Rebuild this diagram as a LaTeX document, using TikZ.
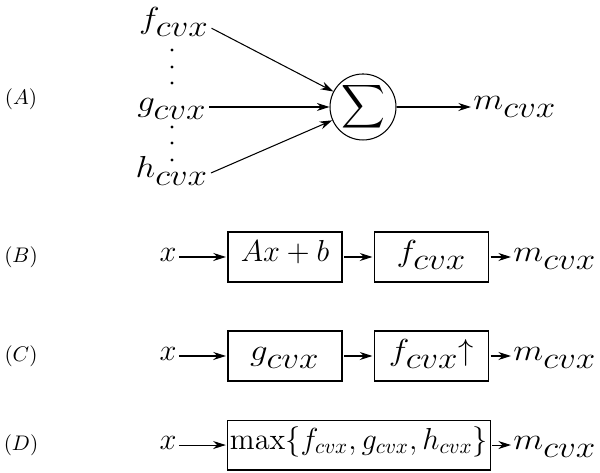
\documentclass[tikz,border=0pt]{standalone}
\usepackage{amsmath,graphicx}
\usetikzlibrary{arrows.meta,positioning}
\newcommand{\cvx}[1]{\scalebox{1.15}[1]{$#1_{\mbox{\raisebox{-0.12em}{$cvx$}}}$}}

\begin{document}
\begin{tikzpicture}[
  term/.style={inner sep=1pt,font=\Large,text height=0.7em,text depth=0.3em},
  block/.style={rectangle,draw,line width=0.5pt,minimum width=1.9cm,
                minimum height=0.833cm,font=\Large,
                text height=0.7em,text depth=0.3em,outer sep=1pt},
  sumnode/.style={circle,draw,line width=0.5pt,minimum size=1.1cm,
                  inner sep=0pt,font=\Large},
  tag/.style={font=\normalsize},
  arr/.style={-{Stealth[length=6pt,width=3.8pt]},line width=0.5pt}
]
  \useasboundingbox (0,0) rectangle (10,-7.867);

  % ---- (A) sum of convex terms --------------------------------
  \node[tag]  (tA)  at (0.35,-1.65)   {$(A)$};
  \node[term] (fA)  at (2.9,-0.4)     {\cvx{f}};
  \node[term] (gA)  at (2.867,-1.783) {\cvx{g}};
  \node[term] (hA)  at (2.867,-2.883) {\cvx{h}};
  \foreach \y in {50,67,83,127,143,160}
    \fill (2.867,-\y/60) circle (0.028);
  \node[sumnode] (sum) at (6.05,-1.783) {$\displaystyle\sum$};
  \node[term] (mA)  at (8.583,-1.75)  {\cvx{m}};

  \draw[arr] (fA.base east) -- (sum);
  \draw[arr] (gA) -- (sum);
  \draw[arr] (hA.east) -- (sum);
  \draw[arr] (sum) -- (sum -| mA.west);

  % ---- (B) affine composition ---------------------------------
  \node[tag]   (tB)   at (0.35,-4.283)  {$(B)$};
  \node[term]  (xB)   at (2.8,-4.283)   {$x$};
  \node[block] (affB) at (4.75,-4.283)  {$Ax+b$};
  \node[block] (fB)   at (7.192,-4.283) {\cvx{f}};
  \node[term]  (mB)   at (9.25,-4.283)  {\cvx{m}};

  \draw[arr] (xB) -- (affB);
  \draw[arr] (affB) -- (fB);
  \draw[arr] (fB) -- (mB);

  % ---- (C) monotone composition -------------------------------
  \node[tag]   (tC) at (0.35,-5.933)  {$(C)$};
  \node[term]  (xC) at (2.8,-5.933)   {$x$};
  \node[block] (gC) at (4.75,-5.933)  {\cvx{g}};
  \node[block] (fC) at (7.192,-5.933) {\cvx{f}$\uparrow$};
  \node[term]  (mC) at (9.25,-5.933)  {\cvx{m}};

  \draw[arr] (xC) -- (gC);
  \draw[arr] (gC) -- (fC);
  \draw[arr] (fC) -- (mC);

  % ---- (D) pointwise maximum ----------------------------------
  \node[tag]   (tD)   at (0.35,-7.417)  {$(D)$};
  \node[term]  (xD)   at (2.8,-7.417)   {$x$};
  \node[block,minimum width=4.367cm,inner sep=1pt] (maxD) at (5.983,-7.417)
    {$\max\{f_{cvx},g_{cvx},h_{cvx}\}$};
  \node[term]  (mD)   at (9.25,-7.417)  {\cvx{m}};

  \draw[arr] (xD) -- (maxD);
  \draw[arr] (maxD) -- (mD);

\end{tikzpicture}
\end{document}
